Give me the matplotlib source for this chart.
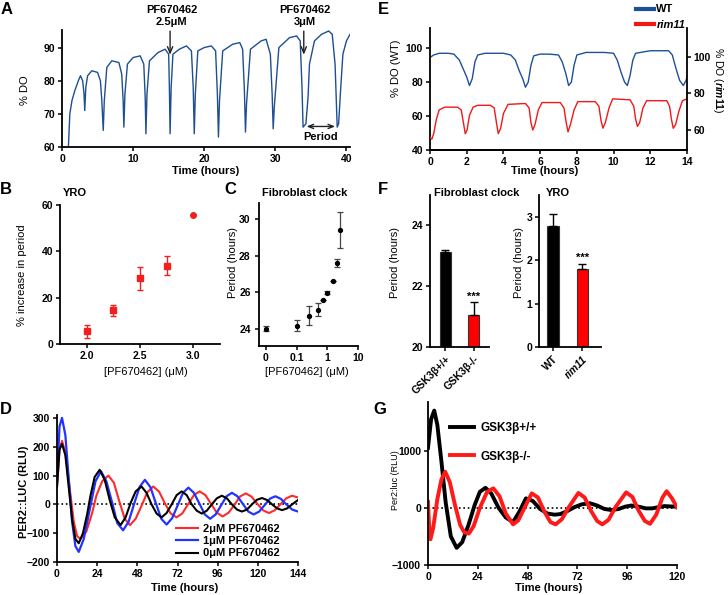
import numpy as np
import matplotlib.pyplot as plt
from matplotlib.lines import Line2D
from matplotlib.ticker import NullLocator

plt.rcParams['font.family'] = ['Liberation Sans', 'DejaVu Sans']
plt.rcParams['font.size'] = 7.5
plt.rcParams['font.weight'] = 'bold'
plt.rcParams['mathtext.fontset'] = 'custom'
plt.rcParams['mathtext.rm'] = 'Liberation Sans'
plt.rcParams['mathtext.it'] = 'Liberation Sans:italic'
plt.rcParams['axes.linewidth'] = 1.3
for k in ('xtick', 'ytick'):
    plt.rcParams[k + '.major.size'] = 3
    plt.rcParams[k + '.major.width'] = 1.1
    plt.rcParams[k + '.labelsize'] = 7.5
    plt.rcParams[k + '.major.pad'] = 2

# ---- A: yeast respiratory oscillation (% DO) ----
t_a = [0.9, 1.1, 1.4, 1.8, 2.3, 2.6, 2.9, 3.1, 3.2,
       3.35, 3.6, 4.2, 5.0, 5.4, 5.6, 5.8,
       5.95, 6.3, 7.0, 8.0, 8.4, 8.6, 8.7,
       8.85, 9.2, 10.0, 11.0, 11.5, 11.7, 11.8,
       11.95, 12.3, 13.5, 14.5, 15.0, 15.1, 15.2,
       15.35, 15.6, 16.5, 17.5, 18.2, 18.45, 18.6,
       18.75, 19.1, 20.0, 21.0, 21.6, 21.85, 22.0,
       22.15, 22.6, 24.0, 25.0, 25.4, 25.65, 25.8,
       25.95, 26.5, 28.0, 28.7, 29.3, 29.55, 29.7,
       29.85, 30.5, 32.0, 33.0, 33.5, 33.75, 33.9,
       34.3, 34.6, 34.8, 35.5, 36.5, 37.5, 38.0, 38.4, 38.7,
       38.9, 39.2, 39.5, 40.0, 40.5]
do_a = [60, 70, 74, 77, 80, 81.5, 80, 76, 71,
        78, 81.5, 83, 82.5, 80, 74, 65,
        74, 84, 86, 85.5, 82, 74, 66,
        76, 85, 87, 87.5, 85, 75, 64,
        76, 86, 88.5, 89.5, 88, 78, 64,
        78, 88, 89.5, 90.5, 89, 78, 64,
        76, 89, 90, 90.5, 89, 76, 63,
        74, 89, 91, 91.5, 89.5, 77, 64.5,
        73, 89.5, 92, 92.5, 88, 76, 65.5,
        72, 90, 93, 93.5, 92, 78, 66,
        67, 75, 85, 92, 94, 95, 94, 85, 66,
        67, 78, 88, 92, 94]

# ---- B: YRO period increase ----
conc_b = [2.0, 2.25, 2.5, 2.75, 3.0]
inc_b = [5.5, 14.5, 28.3, 33.8, 55.5]
err_b = [2.8, 2.5, 5.0, 4.2, 0.0]

# ---- C: fibroblast clock period ----
conc_c = [0, 0.1, 0.25, 0.5, 0.75, 1, 1.5, 2, 2.5]
period_c = [23.99, 24.16, 24.71, 25.05, 25.55, 25.98, 26.64, 27.6, 29.43]
err_c = [0.14, 0.29, 0.52, 0.37, 0, 0.08, 0, 0.22, 1.0]

# ---- D: PER2::LUC detrended traces ----
t_d0 = [0, 1.5, 3, 5, 7, 9, 11, 13,
        15.5, 18, 20, 22.5, 25.5,
        28.5, 31.5, 34.5, 38,
        41, 44, 47, 50.5,
        53.5, 56.5, 59.5, 62.5,
        65.5, 68.5, 71.5, 74.5,
        77.5, 80.5, 83.5, 86.5,
        89.5, 92.5, 95.5, 98.5,
        101.5, 104.5, 107.5, 110.5,
        113.5, 116.5, 119.5, 122.5,
        125.5, 128.5, 131.5, 134.5,
        137.5, 140.5, 144]
luc_d0 = [60, 190, 210, 170, 60, -50, -120, -135,
          -100, -35, 30, 95, 120,
          85, 15, -45, -72,
          -45, 5, 45, 62,
          40, 0, -32, -45,
          -30, 0, 32, 45,
          32, 0, -22, -32,
          -22, 0, 21, 30,
          21, 0, -18, -25,
          -18, 0, 16, 22,
          15, 0, -14, -20,
          -14, 0, 15]
t_d1 = [0, 1.5, 3, 5, 7, 9, 11, 13,
        16, 19.5, 23, 26.3,
        29.5, 33, 36, 39.5,
        42.8, 46, 49.3, 52.5,
        55.8, 59, 62.3, 65.5,
        68.8, 72, 75.3, 78.5,
        81.8, 85, 88.3, 91.5,
        94.8, 98, 101.3, 104.5,
        107.8, 111, 114.3, 117.5,
        120.8, 124, 127.3, 130.5,
        133.8, 137, 140.5, 144]
luc_d1 = [80, 270, 300, 240, 90, -60, -145, -165,
          -120, -20, 80, 115,
          80, 5, -65, -90,
          -60, 0, 60, 85,
          60, 5, -50, -70,
          -48, -5, 40, 58,
          40, 4, -35, -50,
          -35, -4, 28, 40,
          28, 2, -25, -35,
          -25, -3, 20, 28,
          19, 0, -18, -25]
t_d2 = [0, 1.5, 3, 5, 7.5, 10, 12, 14,
        17.5, 21, 23.5, 27, 30.7,
        34, 37, 40.5, 43.6,
        47, 50.5, 54, 57.5,
        61, 64.5, 68, 71.4,
        74.8, 78.3, 81.8, 85.2,
        88.7, 92, 95.5, 99,
        102.5, 106, 109.3, 112.8,
        116.2, 119.7, 123.2, 126.6,
        130, 133.5, 137, 140.4, 144]
luc_d2 = [60, 190, 220, 180, 60, -60, -110, -120,
          -95, -30, 30, 80, 100,
          75, 15, -50, -72,
          -50, -5, 42, 62,
          44, 3, -32, -45,
          -32, 0, 32, 45,
          32, 2, -29, -42,
          -29, -2, 27, 38,
          27, 2, -21, -30,
          -21, 0, 21, 30, 24]

# ---- E: WT vs rim11 % DO ----
t_wt = [0, 0.2, 0.5, 1.0, 1.3, 1.6, 1.8, 2.0, 2.15, 2.3, 2.45, 2.6,
        3.0, 3.5, 4.0, 4.4, 4.65, 4.85, 5.05, 5.2, 5.35, 5.5, 5.65,
        6.0, 6.5, 7.0, 7.2, 7.4, 7.55, 7.7, 7.85, 8.0,
        8.5, 9.5, 10.0, 10.2, 10.4, 10.6, 10.75, 10.9, 11.05, 11.2,
        12.0, 13.0, 13.2, 13.4, 13.6, 13.8, 13.95, 14.0]
do_wt = [94.5, 96, 97, 97, 96.5, 93, 88, 83, 78, 82, 92, 96,
         97, 97, 97, 96, 93, 87, 82, 77, 80, 90, 95.5,
         96.5, 96.5, 96, 92, 85, 78, 80, 90, 96,
         97.5, 97.5, 97, 93, 86, 80, 78, 84, 93, 97,
         98.5, 98.5, 96, 88, 81, 78, 81, 83]
t_rim = [0, 0.1, 0.2, 0.35, 0.5, 0.8, 1.5, 1.7, 1.82, 1.92, 2.02, 2.15, 2.35,
         2.6, 3.3, 3.5, 3.62, 3.72, 3.85, 4.0, 4.25,
         5.2, 5.4, 5.5, 5.6, 5.72, 5.9, 6.1,
         7.1, 7.3, 7.42, 7.52, 7.65, 7.85, 8.05,
         9.0, 9.2, 9.32, 9.42, 9.55, 9.75, 9.95,
         10.9, 11.1, 11.2, 11.3, 11.42, 11.6, 11.8,
         12.9, 13.05, 13.15, 13.25, 13.38, 13.55, 13.75, 14.0]
do_rim = [56, 55, 58, 66, 71, 72.5, 72.5, 71, 64, 58, 60, 68, 72.5,
          73.5, 73.5, 72, 64, 58, 61, 69, 74,
          74.5, 72, 64, 60, 63, 71, 75,
          75, 72, 64, 59, 63, 71, 75.5,
          75.5, 73, 65, 61, 64, 72, 77,
          76.5, 73, 66, 62, 64, 72, 76,
          76, 73, 66, 61, 63, 70, 76, 77]

# ---- F: period bars ----
geno_fib = ['GSK3β+/+', 'GSK3β-/-']
period_fib = [23.12, 21.05]
err_fib = [0.06, 0.42]
geno_yro = ['WT', 'rim11']
period_yro = [2.78, 1.80]
err_yro = [0.28, 0.10]

# ---- G: Per2:luc GSK3b ----
t_g1 = [0, 1.5, 3, 4.5, 6.5, 8.5, 11, 13.8,
        16.5, 19.5, 22.5, 25, 27.7,
        30.5, 34, 37.5, 41,
        44, 47.2, 50.5, 54,
        57.5, 61, 63.7, 67,
        70.5, 74, 78, 81.5,
        85, 88.5, 92, 95,
        98, 101.5, 105, 108,
        111, 114, 116.5, 120]
luc_g1 = [1050, 1550, 1700, 1450, 800, 100, -500, -700,
          -600, -300, 50, 280, 350,
          250, 0, -170, -250,
          -70, 165, 120, -20,
          -100, -120, -110, -60,
          10, 60, 80, 40,
          -20, -40, -20, 20,
          40, 20, -10, -10,
          10, 30, 25, 20]
t_g2 = [0, 0.5, 1.2, 2.5, 4.5, 6.5, 8.3,
        10.5, 13, 15.5, 17.5, 19.7,
        22, 25, 28.5, 31.5,
        34.5, 37.5, 41,
        43.5, 46.5, 50,
        53, 56, 59, 61.5,
        64.5, 68, 72.5,
        75.5, 78.5, 81.5, 84,
        87, 90.5, 95.5,
        98.5, 101.5, 104.5, 107,
        110, 113, 115, 117.5, 120]
luc_g2 = [100, -300, -550, -350, 150, 500, 630,
          450, 50, -300, -430, -450,
          -320, 0, 280, 340,
          200, -100, -290,
          -220, 0, 253,
          180, -60, -250, -290,
          -200, 20, 260,
          180, -50, -230, -290,
          -210, 20, 270,
          190, -50, -230, -280,
          -120, 180, 290, 170, 10]

W, H = 728, 595
fig = plt.figure(figsize=(W / 100, H / 100), dpi=100)


def box(x0, y0, x1, y1):
    return [x0 / W, 1 - y1 / H, (x1 - x0) / W, (y1 - y0) / H]


def ftext(x, y, s, **kw):
    kw.setdefault('ha', 'center')
    kw.setdefault('va', 'center')
    fig.text(x / W, 1 - y / H, s, **kw)


def clean(ax):
    ax.spines['top'].set_visible(False)
    ax.spines['right'].set_visible(False)


for lab, x, y in [('A', 7, 9), ('E', 383, 9), ('B', 6, 190), ('C', 230, 190),
                  ('F', 383, 190), ('D', 6, 410), ('G', 380, 410)]:
    ftext(x, y, lab, fontsize=12, weight='bold')

# A
ax = fig.add_axes(box(62, 30, 350, 147))
clean(ax)
ax.plot(t_a, do_a, color='#1d4f91', lw=1.0)
ax.set_xlim(0, 40.5)
ax.set_ylim(60, 95.3)
ax.set_xticks([0, 10, 20, 30, 40])
ax.set_yticks([60, 70, 80, 90])
for tx, s in [(15.2, 'PF670462\n2.5μM'), (34.0, 'PF670462\n3μM')]:
    ax.text(tx + 0.2, 96.3, s, ha='center', va='bottom', fontsize=8, clip_on=False)
    ax.annotate('', xy=(tx, 87), xytext=(tx, 95.8), annotation_clip=False,
                arrowprops=dict(arrowstyle='->,head_length=0.6,head_width=0.25', lw=1, color='#222'))
ax.annotate('', xy=(34.0, 66.2), xytext=(38.8, 66.2),
            arrowprops=dict(arrowstyle='<->,head_length=0.5,head_width=0.2', lw=1, color='#222'))
ax.text(36.3, 63, 'Period', ha='center', va='center', fontsize=8)
ftext(206, 171, 'Time (hours)', fontsize=8)
ftext(25, 90, '% DO', rotation=90, fontsize=8, weight='normal')

# E
ax = fig.add_axes(box(430, 28, 687, 150))
ax.spines['top'].set_visible(False)
ax.spines['right'].set_visible(False)
ax.plot(t_wt, do_wt, color='#1d5196', lw=1.0)
ax.set_xlim(0, 14)
ax.set_ylim(40, 111.9)
ax.set_xticks(range(0, 15, 2))
ax.set_yticks([40, 60, 80, 100])
axr = ax.twinx()
axr.spines['top'].set_visible(False)
axr.spines['left'].set_visible(False)
axr.plot(t_rim, do_rim, color='#f01818', lw=1.0)
axr.set_ylim(49.1, 115.7)
axr.set_yticks([60, 80, 100])
axr.tick_params(axis='y', pad=1.5)
ftext(545, 171, 'Time (hours)', fontsize=8)
ftext(396, 68, '% DO (WT)', rotation=90, fontsize=8, weight='normal')
ftext(718, 80, '% DO (' + r'$\mathit{rim11}$' + ')', rotation=-90, fontsize=7.5, weight='normal')
handles = [Line2D([], [], color='#1d5196', lw=3), Line2D([], [], color='#f01818', lw=3)]
leg = ax.legend(handles, ['WT', 'rim11'], loc='upper left', frameon=False,
                bbox_to_anchor=(632 / W, 1.0), bbox_transform=fig.transFigure,
                handlelength=1.6, handletextpad=0.2, labelspacing=0.5, fontsize=8,
                borderaxespad=0)
leg.get_texts()[1].set_style('italic')

# B
ax = fig.add_axes(box(60, 205, 220, 344))
clean(ax)
ax.errorbar(conc_b[:4], inc_b[:4], yerr=err_b[:4], fmt='s', color='#ee2020', ms=4,
            capsize=2.5, elinewidth=1, capthick=1)
ax.plot(conc_b[4:], inc_b[4:], 'o', color='#ee2020', ms=4)
ax.set_xlim(1.75, 3.25)
ax.set_ylim(0, 60)
ax.set_xticks([2.0, 2.5, 3.0])
ax.set_xticklabels(['2.0', '2.5', '3.0'])
ax.set_yticks([0, 20, 40, 60])
ftext(63, 193, 'YRO', ha='left', fontsize=8)
ftext(146, 372, '[PF670462] (μM)', fontsize=8, weight='normal')
ftext(22, 275, '% increase in period', rotation=90, fontsize=8, weight='normal')

# C
ax = fig.add_axes(box(259, 203, 358, 346))
clean(ax)
xc = np.where(np.array(conc_c) == 0, 0.01, conc_c)
ax.errorbar(xc, period_c, yerr=err_c, fmt='o', color='black', ecolor='#444444', ms=2.8,
            capsize=2, elinewidth=0.9, capthick=0.9)
ax.set_xscale('log')
ax.set_xlim(0.006, 9.3)
ax.set_ylim(23.05, 30.9)
ax.set_xticks([0.01, 0.1, 1, 10])
ax.set_xticklabels(['0', '0.1', '1', '10'])
ax.xaxis.set_minor_locator(NullLocator())
ax.set_yticks([24, 26, 28, 30])
ax.tick_params(axis='y', pad=3)
ftext(262, 193, 'Fibroblast clock', ha='left', fontsize=8)
ftext(307, 372, '[PF670462] (μM)', fontsize=8, weight='normal')
ftext(233, 262, 'Period (hours)', rotation=90, fontsize=8, weight='normal')

# F left
ax = fig.add_axes(box(430, 195, 489, 347))
clean(ax)
ax.bar([0, 1], period_fib, width=0.42, color=['black', '#ff0000'], edgecolor='#333333', lw=0.8)
ax.errorbar([0, 1], period_fib, yerr=[[0, 0], err_fib], fmt='none', ecolor='black',
            capsize=3, elinewidth=1, capthick=1)
ax.text(1, 21.5, '***', ha='center', va='bottom', fontsize=8)
ax.set_xlim(-0.55, 1.55)
ax.set_ylim(20, 25)
ax.set_yticks([20, 22, 24])
ax.set_xticks([0, 1])
ax.set_xticklabels(geno_fib, rotation=45, ha='right', rotation_mode='anchor')
ftext(434, 193, 'Fibroblast clock', ha='left', fontsize=8)
ftext(395, 263, 'Period (hours)', rotation=90, fontsize=8, weight='normal')

# F right
ax = fig.add_axes(box(539, 195, 601, 347))
clean(ax)
ax.bar([0, 1], period_yro, width=0.4, color=['black', '#ff0000'], edgecolor='#333333', lw=0.8)
ax.errorbar([0, 1], period_yro, yerr=[[0, 0], err_yro], fmt='none', ecolor='black',
            capsize=3, elinewidth=1, capthick=1)
ax.text(1, 1.93, '***', ha='center', va='bottom', fontsize=8)
ax.set_xlim(-0.48, 1.63)
ax.set_ylim(0, 3.5)
ax.set_yticks([0, 1, 2, 3])
ax.set_xticks([0, 1])
ax.set_xticklabels(geno_yro, rotation=45, ha='right', rotation_mode='anchor')
ax.get_xticklabels()[1].set_style('italic')
ftext(546, 193, 'YRO', ha='left', fontsize=8)
ftext(519, 262, 'Period (hours)', rotation=90, fontsize=8, weight='normal')

# D
ax = fig.add_axes(box(57, 415, 298, 562))
clean(ax)
ax.axhline(0, color='black', ls=':', lw=1.2)
ax.plot(t_d2, luc_d2, color='#ff2a2a', lw=1.5, label='2μM PF670462', solid_joinstyle='round')
ax.plot(t_d1, luc_d1, color='#2233ff', lw=1.6, label='1μM PF670462', solid_joinstyle='round')
ax.plot(t_d0, luc_d0, color='black', lw=1.5, label='0μM PF670462', solid_joinstyle='round')
ax.set_xlim(0, 144)
ax.set_ylim(-200, 310)
ax.set_xticks(range(0, 145, 24))
ax.set_yticks(range(-200, 301, 100))
ax.legend(loc='upper left', bbox_to_anchor=(176 / W, 1 - 524 / H), bbox_transform=fig.transFigure,
          frameon=False, fontsize=8, handlelength=2.0, handletextpad=0.4, labelspacing=0.2,
          borderaxespad=0, borderpad=0)
ftext(185, 588, 'Time (hours)', fontsize=8)
ftext(24, 492, 'PER2::LUC (RLU)', rotation=90, fontsize=8)

# G
ax = fig.add_axes(box(428, 402, 677, 565))
clean(ax)
ax.axhline(0, color='black', ls=':', lw=1.2)
ax.plot(t_g1, luc_g1, color='black', lw=2.8, label='GSK3β+/+', solid_joinstyle='round')
ax.plot(t_g2, luc_g2, color='#ff1a1a', lw=2.8, label='GSK3β-/-', solid_joinstyle='round')
ax.set_xlim(0, 120)
ax.set_ylim(-1000, 1850)
ax.set_xticks(range(0, 121, 24))
ax.set_yticks([-1000, 0, 1000])
ax.legend(loc='upper left', bbox_to_anchor=(450 / W, 1 - 422 / H), bbox_transform=fig.transFigure,
          frameon=False, fontsize=8.5, handlelength=2.0, handletextpad=0.6, labelspacing=1.4,
          borderaxespad=0, borderpad=0)
ftext(549, 588, 'Time (hours)', fontsize=8)
ftext(396, 480, 'Per2:luc (RLU)', rotation=90, fontsize=6.5, weight='normal')

fig.savefig('out.png', dpi=100)
